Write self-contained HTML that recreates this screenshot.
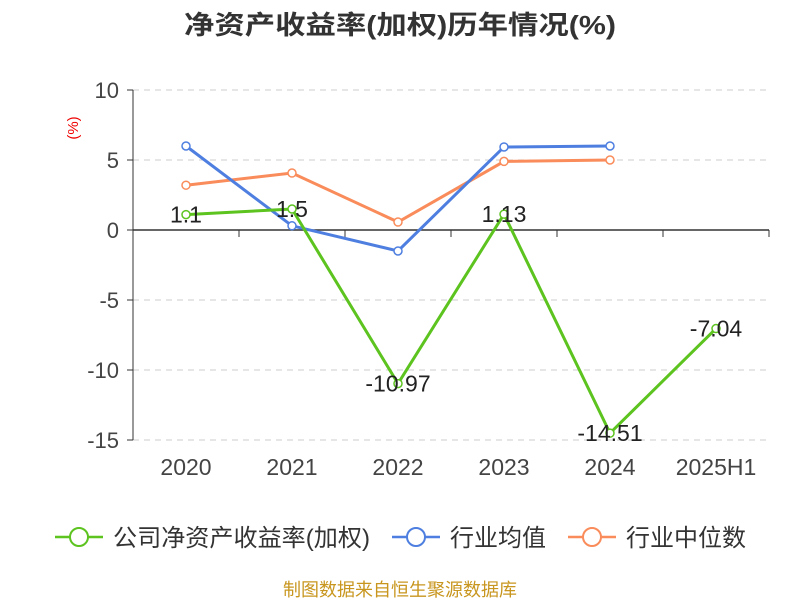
<!DOCTYPE html>
<html><head><meta charset="utf-8"><style>
body{margin:0;background:#fff;font-family:"Liberation Sans","Noto Sans CJK SC",sans-serif}
</style></head><body>
<svg id="c" width="800" height="600" xmlns="http://www.w3.org/2000/svg" font-family="Liberation Sans, Noto Sans CJK SC, sans-serif">
<text x="400" y="34" text-anchor="middle" font-size="26" font-weight="bold" fill="#333" textLength="432" lengthAdjust="spacingAndGlyphs">净资产收益率(加权)历年情况(%)</text>
<text x="78" y="128" font-size="15" fill="#e00" transform="rotate(-90 78 128)" text-anchor="middle">(%)</text>
<g id="grid"></g><g id="axes"></g><g id="series"></g><g id="labels"></g>
<g>
<g><line x1="55" y1="537" x2="103" y2="537" stroke="#5cc31f" stroke-width="2.5"/><circle cx="79" cy="537" r="9" fill="#fff" stroke="#5cc31f" stroke-width="2"/><text x="113" y="546" font-size="24" fill="#333" textLength="257" lengthAdjust="spacingAndGlyphs">公司净资产收益率(加权)</text></g>
<g><line x1="392" y1="537" x2="440" y2="537" stroke="#4e7fe0" stroke-width="2.5"/><circle cx="416" cy="537" r="9" fill="#fff" stroke="#4e7fe0" stroke-width="2"/><text x="450" y="546" font-size="24" fill="#333">行业均值</text></g>
<g><line x1="568" y1="537" x2="616" y2="537" stroke="#f98c5a" stroke-width="2.5"/><circle cx="592" cy="537" r="9" fill="#fff" stroke="#f98c5a" stroke-width="2"/><text x="626" y="546" font-size="24" fill="#333">行业中位数</text></g>
</g>
<text x="400" y="596" text-anchor="middle" font-size="18" fill="#c8961e">制图数据来自恒生聚源数据库</text>
</svg>
<script>
const categories=["2020","2021","2022","2023","2024","2025H1"];
const companyValues=[1.1,1.5,-10.97,1.13,-14.51,-7.04];
const avgValues=[6.0,0.3,-1.5,5.93,6.0];
const medianValues=[3.2,4.07,0.57,4.9,5.0];
const yTicks=[10,5,0,-5,-10,-15];
const NS="http://www.w3.org/2000/svg";
const left=133,right=769,bw=(right-left)/categories.length;
const y=v=>230-v*14, x=i=>left+bw*(i+0.5);
function mk(t,a,p){const e=document.createElementNS(NS,t);for(const k in a)e.setAttribute(k,a[k]);document.getElementById(p).appendChild(e);return e;}
yTicks.forEach(v=>{
 if(v!==0){const g=mk('line',{x1:left,x2:right,y1:y(v),y2:y(v),stroke:'#ccc','stroke-dasharray':'6,5'},'grid');
 
 }
 const t=mk('text',{x:left-14,y:y(v)+8,'text-anchor':'end','font-size':22,fill:'#444'},'axes');t.textContent=v;
 
 
 mk('line',{x1:left-6,x2:left,y1:y(v),y2:y(v),stroke:'#333'},'axes');
});
mk('line',{x1:left,x2:left,y1:y(10),y2:y(-15),stroke:'#333'},'axes');
const za=mk('line',{x1:left,x2:right,y1:y(0),y2:y(0),stroke:'#333','stroke-width':1.5},'axes');


for(let i=0;i<=categories.length;i++)mk('line',{x1:left+bw*i,x2:left+bw*i,y1:y(0),y2:y(0)+7,stroke:'#333'},'axes');
categories.forEach((c,i)=>{const t=mk('text',{x:x(i),y:475,'text-anchor':'middle','font-size':23,fill:'#444'},'axes');t.textContent=c;
 
 });
function series(vals,color,name){
 const p=mk('polyline',{points:vals.map((v,i)=>x(i)+','+y(v)).join(' '),fill:'none',stroke:color,'stroke-width':3},'series');
 
 
 vals.forEach((v,i)=>{const c=mk('circle',{cx:x(i),cy:y(v),r:4,fill:'#fff',stroke:color,'stroke-width':1.5},'series');
  
  });
}
series(medianValues,'#f98c5a','industry-median');
series(avgValues,'#4e7fe0','industry-avg');
series(companyValues,'#5cc31f','company');
companyValues.forEach((v,i)=>{const t=mk('text',{x:x(i),y:y(v)+8,'text-anchor':'middle','font-size':23,fill:'#222'},'labels');t.textContent=v;
 
 });
</script>
</body></html>
